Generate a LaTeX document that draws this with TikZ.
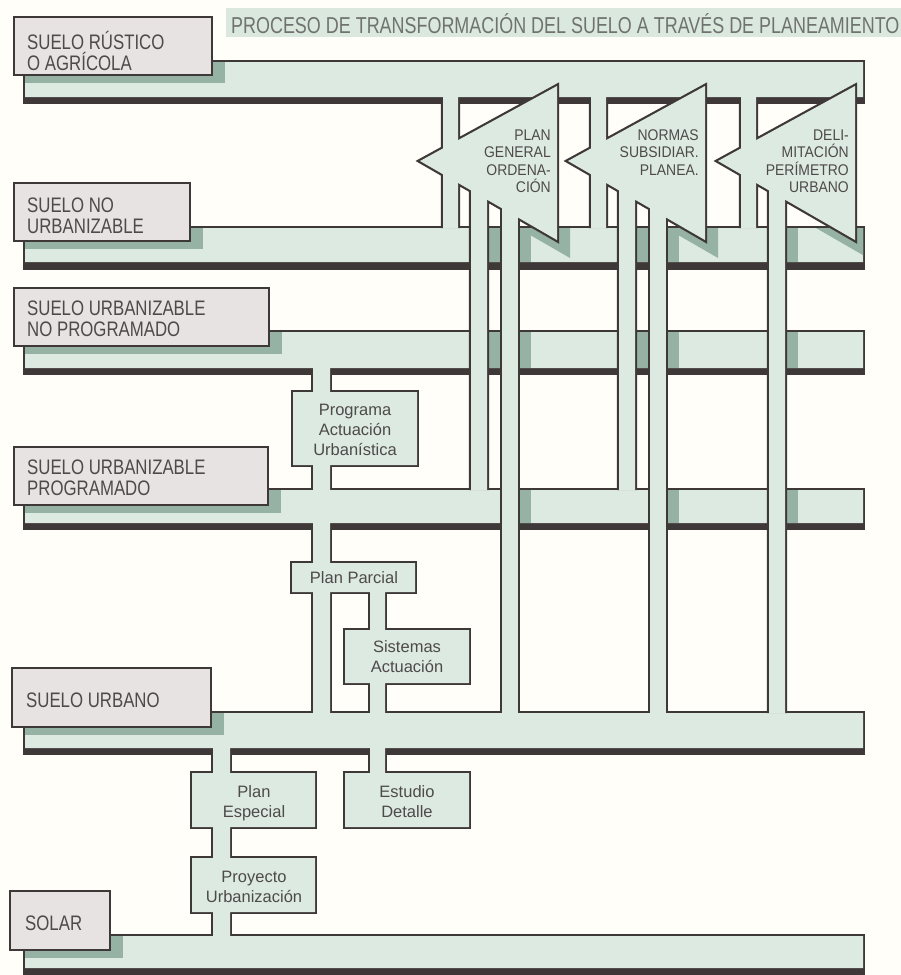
\documentclass[tikz,border=0pt]{standalone}
\usepackage{fontspec}
\setmainfont{Liberation Sans}
\newfontfamily\condsf[FakeStretch=0.8]{Liberation Sans}
\newfontfamily\headsf[FakeStretch=0.78]{Liberation Sans}
\newfontfamily\narsf[FakeStretch=0.9]{Liberation Sans}
\definecolor{paperc}{RGB}{255,254,249}
\definecolor{bandc}{RGB}{221,234,226}
\definecolor{shadec}{RGB}{150,178,164}
\definecolor{linec}{RGB}{62,56,56}
\definecolor{labelc}{RGB}{231,227,227}
\definecolor{textc}{RGB}{78,74,74}
\definecolor{titlec}{RGB}{112,114,112}
\definecolor{titlebg}{RGB}{218,232,222}
\tikzset{
  pipes/.style={fill=bandc,preaction={draw=linec,line width=4.4pt}},
  rim/.style={draw=linec,line width=4.4pt},
  groove/.style={fill=linec},
  shade/.style={fill=shadec},
  landbox/.style={draw=linec,fill=labelc,line width=2.2pt},
  landtxt/.style={anchor=base west,inner sep=0pt,text=textc,align=left,font=\condsf\fontsize{21}{20.5}\selectfont},
  plantxt/.style={anchor=base,inner sep=0pt,text=textc,align=center,font=\fontsize{16.5}{20}\selectfont},
  figtxt/.style={anchor=base east,inner sep=0pt,text=textc,align=right,font=\narsf\fontsize{15.5}{17.5}\selectfont}
}
\begin{document}
\begin{tikzpicture}[x=1pt,y=-1pt]
\fill[paperc] (0,0) rectangle (901,975);
\useasboundingbox (0,0) rectangle (901,975);

\fill[titlebg] (226,8) rectangle (901,37);
\node[anchor=base west,inner sep=0pt,text=titlec,font=\headsf\fontsize{23}{23}\selectfont] (title) at (231,33) {PROCESO DE TRANSFORMACIÓN DEL SUELO A TRAVÉS DE PLANEAMIENTO};

% grooves under the bands
\fill[groove] (22.8,97) rectangle (865.2,104);
\fill[groove] (22.8,262) rectangle (865.2,270);
\fill[groove] (22.8,368) rectangle (865.2,375);
\fill[groove] (22.8,523) rectangle (865.2,530);
\fill[groove] (22.8,748) rectangle (865.2,755);
\fill[groove] (22.8,968) rectangle (865.2,975);

% bands, plan boxes and their pipes
\path[pipes] (25,62) rectangle (863,97)
  (25,228) rectangle (863,262)
  (25,332) rectangle (863,368)
  (25,490) rectangle (863,523)
  (25,713) rectangle (863,748)
  (25,936) rectangle (863,968)
  (313,360) rectangle (330,500)
  (313,515) rectangle (330,720)
  (370,580) rectangle (385,720)
  (213,740) rectangle (230,945)
  (370,740) rectangle (385,780)
  (293,392) rectangle (417,465)
  (292,563) rectangle (415,592)
  (345,630) rectangle (469,683)
  (192,773) rectangle (315,827)
  (192,858) rectangle (315,912)
  (345,773) rectangle (469,827);

% shadows
\fill[shade] (25,62) rectangle (225,83);
\begin{scope}
  \clip (25,228) rectangle (863,262);
  \fill[shade] (25,228) rectangle (203,249);
  \foreach \R in {557,705,855} {
    \fill[shade] (\R+13,104) -- (\R+13,258) -- (\R-124,179) -- cycle;
    \fill[shade] (\R-73,180) rectangle (\R-57,262);
  }
  \foreach \R in {557,705}
    \fill[shade] (\R-42,190) rectangle (\R-26,262);
\end{scope}
\fill[shade] (25,332) rectangle (282,354);
\foreach \R in {557,705,855}
  \fill[shade] (\R-73,332) rectangle (\R-57,368);
\foreach \R in {557,705}
  \fill[shade] (\R-42,332) rectangle (\R-26,368);
\fill[shade] (25,490) rectangle (281,513);
\foreach \R in {557,705}
  \fill[shade] (\R-42,490) rectangle (\R-26,523);
\fill[shade] (782,490) rectangle (798,523);
\fill[shade] (25,713) rectangle (224,735);
\fill[shade] (25,936) rectangle (123,958);

% planning arrows with their pipes
\foreach \R/\tb in {557/490,705/490,855/713}
  \draw[rim] (\R,86) -- (\R,240) -- (\R-137,161) -- cycle
    (\R-114,106.2) rectangle (\R-99,225.8)
    (\R-86,185) rectangle (\R-70,\tb-2.2);
\foreach \R in {557,705}
  \draw[rim] (\R-55,195) rectangle (\R-39,710.8);
\foreach \R/\tb in {557/490,705/490,855/713} {
  \fill[bandc] (\R,86) -- (\R,240) -- (\R-137,161) -- cycle;
  \fill[bandc] (\R-114,96.5) rectangle (\R-99,228.5)
    (\R-86,185) rectangle (\R-70,\tb+0.5);
}
\foreach \R in {557,705}
  \fill[bandc] (\R-55,195) rectangle (\R-39,713.5);

% land classes
\draw[landbox] (14,17) rectangle (212,75);
\draw[landbox] (14,183) rectangle (190,241);
\draw[landbox] (14,288) rectangle (269,346);
\draw[landbox] (14,447) rectangle (268,505);
\draw[landbox] (12,668) rectangle (211,727);
\draw[landbox] (10,891) rectangle (110,950);

\node[landtxt] (rustico) at (27,70) {SUELO RÚSTICO\\O AGRÍCOLA};
\node[landtxt] (noUrb) at (27,233) {SUELO NO\\URBANIZABLE};
\node[landtxt] (urbNoProg) at (27,336) {SUELO URBANIZABLE\\NO PROGRAMADO};
\node[landtxt] (urbProg) at (27,495) {SUELO URBANIZABLE\\PROGRAMADO};
\node[landtxt] (urbano) at (26,707) {SUELO URBANO};
\node[landtxt] (solar) at (25,930) {SOLAR};

\node[figtxt] (pgo) at (551,192.5) {PLAN\\GENERAL\\ORDENA-\\CIÓN};
\node[figtxt] (nsp) at (699,175) {NORMAS\\SUBSIDIAR.\\PLANEA.};
\node[figtxt] (dpu) at (849,192.5) {DELI-\\MITACIÓN\\PERÍMETRO\\URBANO};

\node[plantxt] (pau) at (355,455) {Programa\\Actuación\\Urbanística};
\node[plantxt] (parcial) at (354,583) {Plan Parcial};
\node[plantxt] (sistemas) at (407,672) {Sistemas\\Actuación};
\node[plantxt] (especial) at (254,817) {Plan\\Especial};
\node[plantxt] (proyecto) at (254,902) {Proyecto\\Urbanización};
\node[plantxt] (estudio) at (407,817) {Estudio\\Detalle};
\end{tikzpicture}
\end{document}
